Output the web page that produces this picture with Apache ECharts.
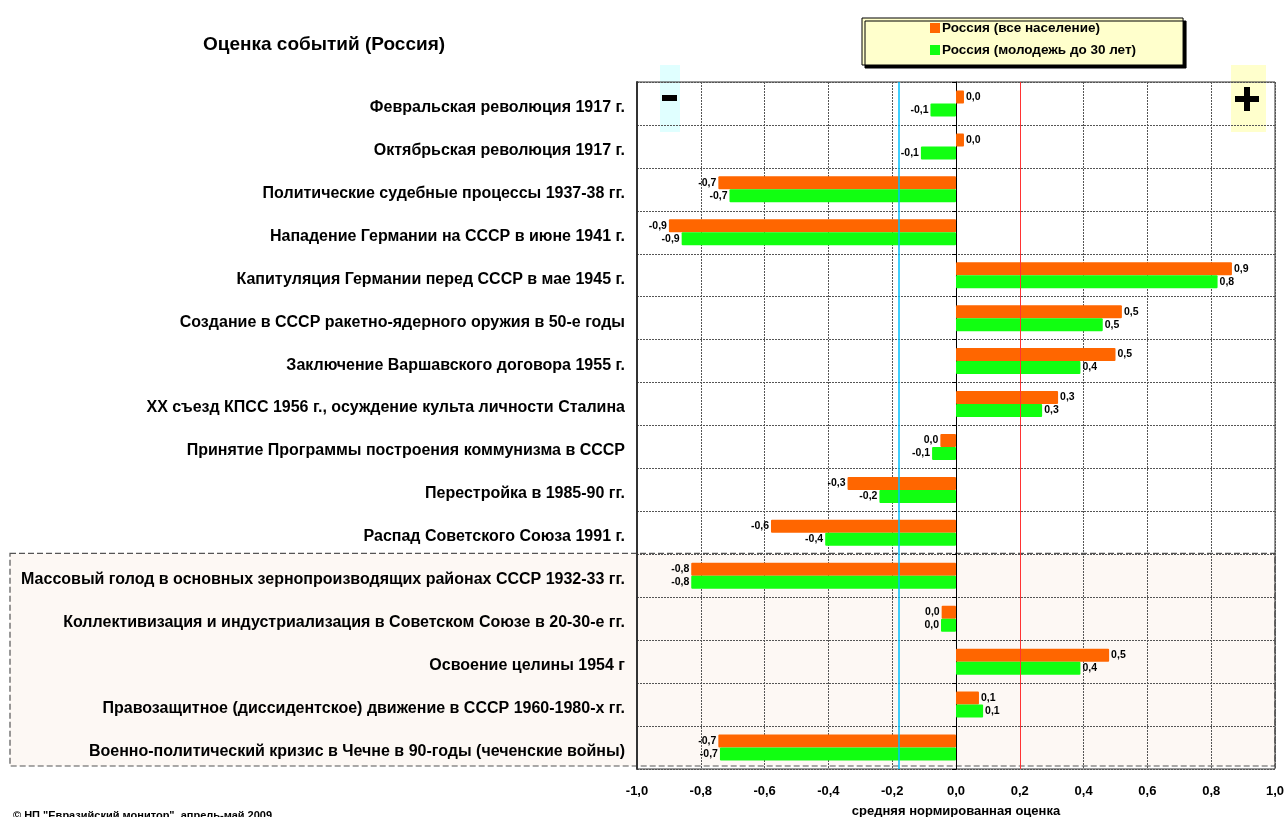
<!DOCTYPE html>
<html><head><meta charset="utf-8">
<script src="https://cdn.jsdelivr.net/npm/echarts@6/dist/echarts.min.js"></script>
<style>html,body{margin:0;padding:0;background:#fff}#c{width:1285px;height:817px}</style>
</head><body><div id="c"></div>
<script>
const categories = [
 'Февральская революция 1917 г.',
 'Октябрьская революция 1917 г.',
 'Политические судебные процессы 1937-38 гг.',
 'Нападение Германии на СССР в июне 1941 г.',
 'Капитуляция Германии перед СССР в мае 1945 г.',
 'Создание в СССР ракетно-ядерного оружия в 50-е годы',
 'Заключение Варшавского договора 1955 г.',
 'XX съезд КПСС 1956 г., осуждение культа личности Сталина',
 'Принятие Программы построения коммунизма в СССР',
 'Перестройка в 1985-90 гг.',
 'Распад Советского Союза 1991 г.',
 'Массовый голод в основных зернопроизводящих районах СССР 1932-33 гг.',
 'Коллективизация и индустриализация в Советском Союзе в 20-30-е гг.',
 'Освоение целины 1954 г',
 'Правозащитное (диссидентское) движение в СССР 1960-1980-х гг.',
 'Военно-политический кризис в Чечне в 90-годы (чеченские войны)'
];
const seriesNames = ['Россия (все население)', 'Россия (молодежь до 30 лет)'];
const allPopulation = [0.025, 0.025, -0.745, -0.90, 0.865, 0.52, 0.50, 0.32, -0.049, -0.34, -0.58, -0.83, -0.045, 0.48, 0.072, -0.745];
const youth = [-0.08, -0.11, -0.71, -0.86, 0.82, 0.46, 0.39, 0.27, -0.075, -0.24, -0.41, -0.83, -0.047, 0.39, 0.085, -0.74];
const refLines = [-0.185, 0.205];
const xTicks = {min: -1, max: 1, interval: 0.2};
const highlightFrom = 11; // first category of the shaded group

const FONT = '"Liberation Sans", Arial, sans-serif';
const fmt = v => { let r = Math.round(v * 10) / 10; if (r === 0) r = 0; return r.toFixed(1).replace('.', ','); };
const mkData = arr => arr.map(v => ({value: v, label: {position: v < 0 ? 'left' : 'right'}}));

const chart = echarts.init(document.getElementById('c'));
const GRID = {left: 637, right: 10, top: 82, bottom: 48};
const labelStyle = {show: true, fontFamily: FONT, fontSize: 10.5, fontWeight: 'bold', color: '#000', distance: 2, formatter: p => fmt(p.value)};

chart.setOption({
  animation: false,
  textStyle: {fontFamily: FONT},
  grid: {left: GRID.left, right: GRID.right, top: GRID.top, bottom: GRID.bottom, containLabel: false, outerBoundsMode: 'none',
         show: true, borderColor: '#333', borderWidth: 1, backgroundColor: 'transparent'},
  legend: {
    left: 862, top: 18, orient: 'vertical', itemWidth: 10, itemHeight: 10, itemGap: 8,
    padding: [3, 47, 8, 68], backgroundColor: '#ffffcc', borderColor: '#000', borderWidth: 1,
    shadowColor: '#000', shadowOffsetX: 3, shadowOffsetY: 3, shadowBlur: 0,
    textStyle: {fontFamily: FONT, fontSize: 13.5, fontWeight: 'bold', color: '#000', padding: [0, 0, 0, -3]},
    icon: 'rect', data: seriesNames
  },
  xAxis: {
    type: 'value', min: xTicks.min, max: xTicks.max, interval: xTicks.interval,
    axisLine: {show: false}, axisTick: {show: false},
    axisLabel: {fontFamily: FONT, fontSize: 13, fontWeight: 'bold', color: '#000', margin: 16, formatter: v => fmt(v)},
    splitLine: {show: true, lineStyle: {color: '#555', type: [2, 1], width: 1}},
    name: 'средняя нормированная оценка', nameLocation: 'middle', nameGap: 36,
    nameTextStyle: {fontFamily: FONT, fontSize: 13, fontWeight: 'bold', color: '#000'}
  },
  yAxis: [{
    type: 'category', data: categories, inverse: true,
    axisLine: {show: true, onZero: false, lineStyle: {color: '#333', width: 2}},
    axisTick: {show: false},
    axisLabel: {fontFamily: FONT, fontSize: 16, fontWeight: 'bold', color: '#000', margin: 12, verticalAlign: 'top', lineHeight: 8},
    splitLine: {show: true, interval: 0, lineStyle: {color: '#555', type: [2, 1], width: 1}}
  }, {
    type: 'category', data: categories, inverse: true, position: 'left',
    axisLine: {show: true, onZero: true, lineStyle: {color: '#000', width: 1}},
    axisTick: {show: true, length: 4, lineStyle: {color: '#000'}},
    axisLabel: {show: false}, splitLine: {show: false}
  }],
  series: [{
    name: seriesNames[0], type: 'bar', data: mkData(allPopulation), barWidth: 13, barGap: '0%',
    itemStyle: {color: '#ff6600', borderRadius: 1},
    label: labelStyle,
    markLine: {
      silent: true, symbol: 'none', label: {show: false}, z: 5,
      data: [
        {xAxis: refLines[0], lineStyle: {color: '#00c0ff', width: 1.5, type: 'solid'}},
        {xAxis: refLines[1], lineStyle: {color: '#ff3333', width: 1, type: 'solid'}}
      ]
    }
  }, {
    name: seriesNames[1], type: 'bar', data: mkData(youth), barWidth: 13, barGap: '0%',
    itemStyle: {color: '#11ff11', borderRadius: 1},
    label: labelStyle
  }],
  graphic: [
    {type: 'text', x: 203, y: 45, style: {text: 'Оценка событий (Россия)', font: 'bold 19px ' + FONT, fill: '#000', verticalAlign: 'middle'}},
    {type: 'text', x: 13, y: 810, style: {text: '© НП "Евразийский монитор", апрель-май 2009', font: 'bold 11px ' + FONT, fill: '#000', verticalAlign: 'top'}},
    {type: 'rect', shape: {x: 660, y: 65, width: 20, height: 67}, style: {fill: '#e0ffff'}, z: -5},
    {type: 'rect', shape: {x: 662, y: 95, width: 15, height: 6}, style: {fill: '#000'}, z: 10},
    {type: 'rect', shape: {x: 1231, y: 65, width: 35, height: 67}, style: {fill: '#ffffcc'}, z: -5},
    {type: 'rect', shape: {x: 1235, y: 96, width: 24, height: 6}, style: {fill: '#000'}, z: 10},
    {type: 'rect', shape: {x: 1244, y: 87, width: 6, height: 24}, style: {fill: '#000'}, z: 10}
  ]
});

// shaded group of categories: compute row bounds from the axis
const band = (chart.convertToPixel({yAxisIndex: 0}, categories[1]) - chart.convertToPixel({yAxisIndex: 0}, categories[0]));
const yStart = chart.convertToPixel({yAxisIndex: 0}, categories[highlightFrom]) - band / 2;
const yEnd = chart.convertToPixel({yAxisIndex: 0}, categories[categories.length - 1]) + band / 2;
const xRight = chart.convertToPixel({xAxisIndex: 0}, xTicks.max);
chart.setOption({graphic: [
  {type: 'rect', id: 'shade', shape: {x: 10, y: yStart - 1, width: xRight - 10, height: yEnd - yStart - 2},
   style: {fill: '#fdf8f4', stroke: '#555', lineWidth: 1.2, lineDash: [6, 3]}, z: -10, silent: true}
]});
</script></body></html>
